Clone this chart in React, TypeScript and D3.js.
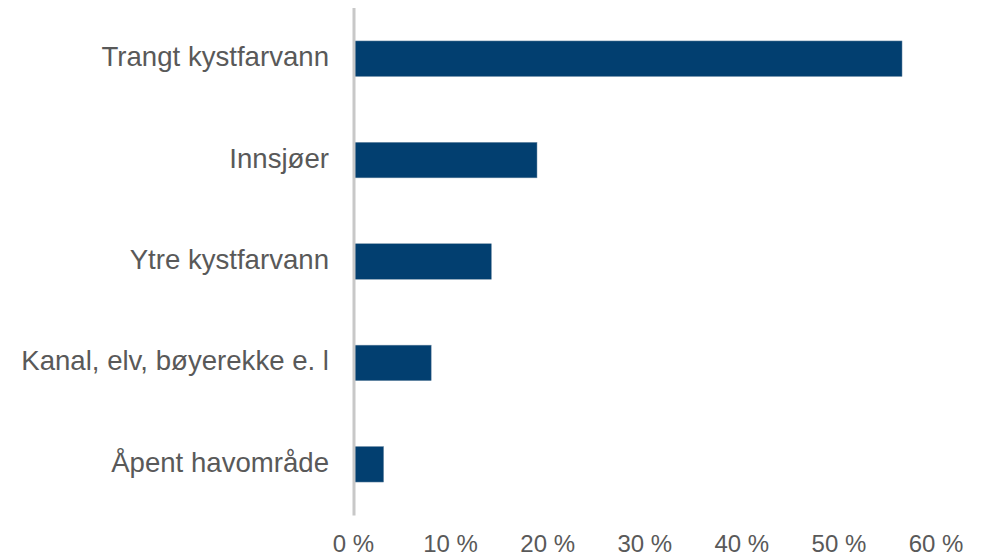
import React, { useEffect } from "react";
import * as d3 from "d3";

const categories: string[] = [
  "Trangt kystfarvann",
  "Innsjøer",
  "Ytre kystfarvann",
  "Kanal, elv, bøyerekke e. l",
  "Åpent havområde",
];
const values: number[] = [0.565, 0.189, 0.142, 0.08, 0.031];
const tickValues: number[] = [0, 0.1, 0.2, 0.3, 0.4, 0.5, 0.6];
const tickLabels: string[] = ["0 %", "10 %", "20 %", "30 %", "40 %", "50 %", "60 %"];

const W = 981;
const H = 556;
const TEXT = "#595959";
const BAR = "#023f70";
const FONT = "'Liberation Sans', Arial, sans-serif";

export default function App() {
  useEffect(() => {
    document.body.style.margin = "0";
  }, []);

  const x = d3.scaleLinear().domain([0, 0.6]).range([353.5, 936]);
  const y = d3
    .scaleBand<string>()
    .domain(categories)
    .range([8, 515])
    .paddingInner(0.65)
    .paddingOuter(0.325);

  return (
    <svg
      width={W}
      height={H}
      style={{ position: "absolute", left: 0, top: 0, background: "#fff" }}
    >
      {categories.map((c, i) => (
        <rect
          key={c}
          x={x(0)}
          y={y(c)!}
          width={x(values[i]) - x(0)}
          height={y.bandwidth()}
          fill={BAR}
          stroke="#6d8aa3"
          strokeWidth={0.5}
        />
      ))}
      <line x1={354} x2={354} y1={8} y2={515.5} stroke="#c8c8c8" strokeWidth={3} />
      {categories.map((c) => (
        <text
          key={"l" + c}
          x={329}
          y={y(c)! + y.bandwidth() / 2 + 7.5}
          textAnchor="end"
          fontFamily={FONT}
          fontSize={27.6}
          fill={TEXT}
        >
          {c}
        </text>
      ))}
      {tickValues.map((t, i) => (
        <text
          key={"t" + t}
          x={x(t)}
          y={552}
          textAnchor="middle"
          fontFamily={FONT}
          fontSize={24}
          fill={TEXT}
        >
          {tickLabels[i]}
        </text>
      ))}
    </svg>
  );
}
